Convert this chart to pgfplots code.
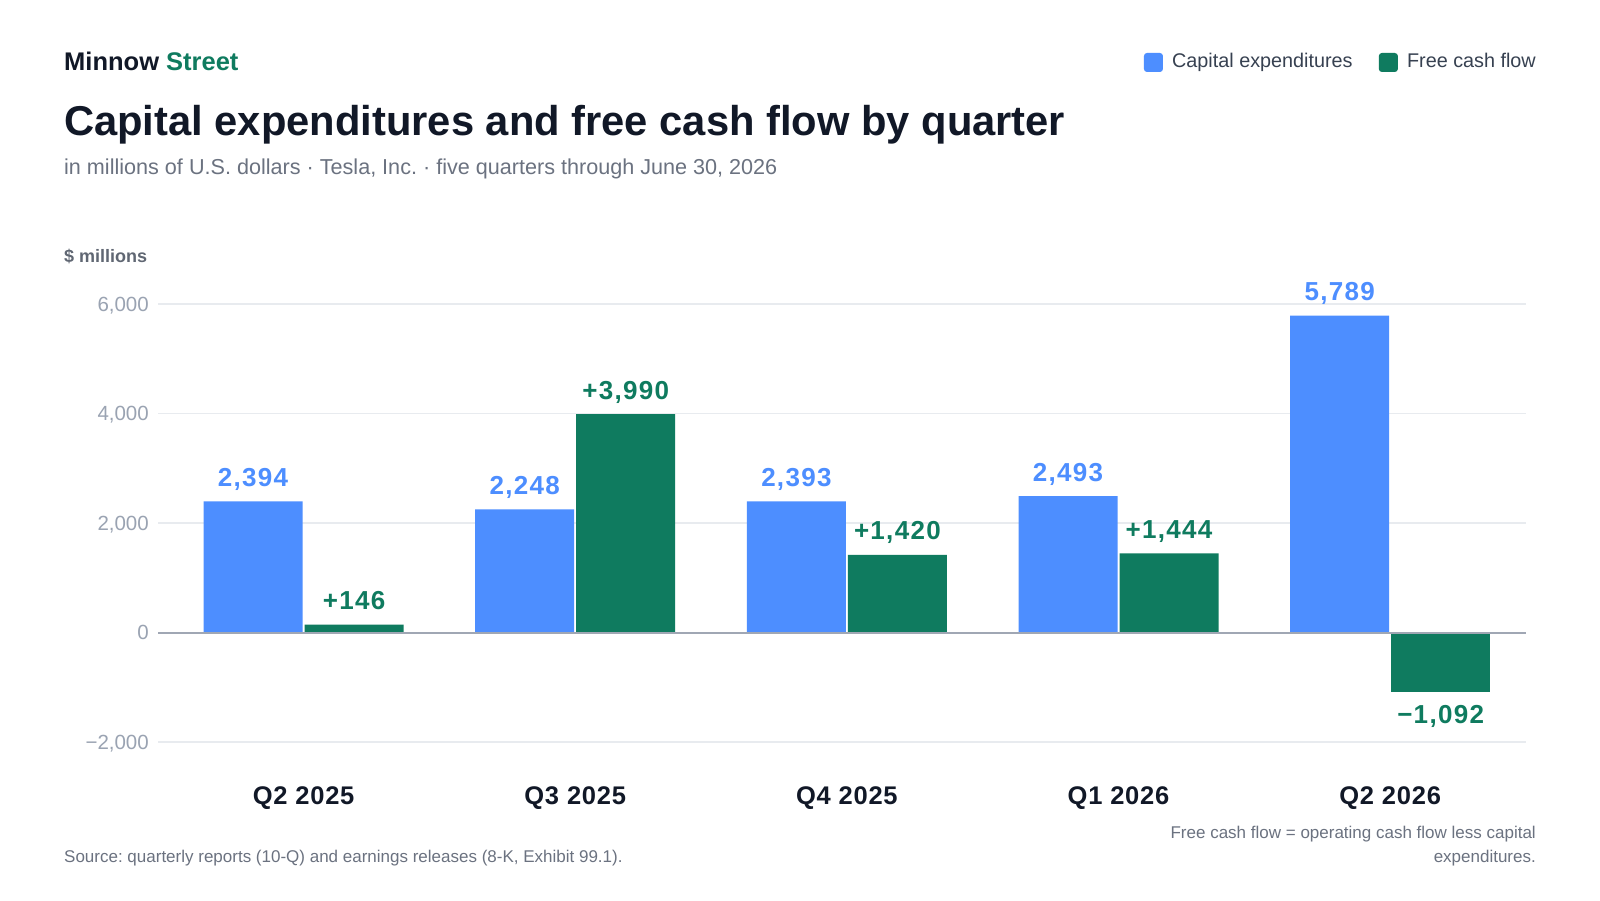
\documentclass[border=0pt]{standalone}
\usepackage{fontspec}
\setmainfont{Liberation Sans}
\newfontfamily\numfont[LetterSpace=5]{Liberation Sans}
\newfontfamily\catfont[LetterSpace=3]{Liberation Sans}
\usepackage{pgfplots}
\pgfplotsset{compat=1.18}
\definecolor{capex}{HTML}{4D8EFF}
\definecolor{fcf}{HTML}{0F7B5F}
\definecolor{ink}{HTML}{111827}
\definecolor{sub}{HTML}{6B7280}
\definecolor{tickc}{HTML}{9AA3B2}
\definecolor{gridc}{HTML}{E8EBEF}
\definecolor{zeroc}{HTML}{A0A7B4}
\definecolor{leg}{HTML}{374151}
\begin{document}
\frenchspacing
\begin{tikzpicture}[x=1pt,y=1pt]
\fill[white] (0,0) rectangle (1600,900);
% header
\node[anchor=base west, inner sep=0, font=\fontsize{25.5}{30}\selectfont\bfseries] at (64,829) {\textcolor{ink}{Minnow} \textcolor{fcf}{Street}};
\node[anchor=base west, inner sep=0, font=\fontsize{41.7}{50}\selectfont\bfseries, text=ink] at (64,764) {Capital expenditures and free cash flow by quarter};
\node[anchor=base west, inner sep=0, font=\fontsize{21.6}{26}\selectfont, text=sub] at (64,725) {in millions of U.S. dollars · Tesla, Inc. · five quarters through June 30, 2026};
\node[anchor=base west, inner sep=0, font=\fontsize{18}{22}\selectfont\bfseries, text=sub!90!black] at (64,637) {\$ millions};
% legend
\node[anchor=base east, inner sep=0, font=\fontsize{19.8}{24}\selectfont, text=leg] (l2) at (1536,832) {Free cash flow};
\fill[fcf, rounded corners=3pt] ([xshift=-9pt]l2.base west) ++(0,-4) rectangle ++(-19,19);
\node[anchor=base east, inner sep=0, font=\fontsize{19.8}{24}\selectfont, text=leg] (l1) at ([xshift=-54pt]l2.base west) {Capital expenditures};
\fill[capex, rounded corners=3pt] ([xshift=-9pt]l1.base west) ++(0,-4) rectangle ++(-19,19);
% footer
\node[anchor=base west, inner sep=0, font=\fontsize{17}{20}\selectfont, text=sub] at (64,38) {Source: quarterly reports (10-Q) and earnings releases (8-K, Exhibit 99.1).};
\node[anchor=base east, inner sep=0, font=\fontsize{17}{20}\selectfont, text=sub] at (1536,62) {Free cash flow = operating cash flow less capital};
\node[anchor=base east, inner sep=0, font=\fontsize{17}{20}\selectfont, text=sub] at (1536,38) {expenditures.};
\begin{axis}[
  at={(158pt,158pt)}, anchor=south west,
  scale only axis, width=1368pt, height=438pt,
  xmin=-0.536, xmax=4.5, ymin=-2000, ymax=6000,
  clip=false,
  axis line style={draw=none},
  major tick length=0pt, tick style={draw=none},
  ymajorgrids, grid style={gridc, line width=1.5pt},
  ytick={-2000,0,2000,4000,6000},
  yticklabels={{−2,000},{0},{2,000},{4,000},{6,000}},
  yticklabel style={font=\fontsize{20.5}{24}\selectfont, text=tickc, anchor=base east, inner sep=0pt, xshift=-9pt, yshift=-7pt},
  xtick={0,1,2,3,4},
  xticklabels={Q2 2025,Q3 2025,Q4 2025,Q1 2026,Q2 2026},
  xticklabel style={font=\catfont\fontsize{25.5}{30}\selectfont\bfseries, text=ink, anchor=base, inner sep=0pt, yshift=-62pt},
]
\addplot[ybar, bar width=99pt, bar shift=-50.5pt, fill=capex, draw=none,
  point meta=explicit symbolic, nodes near coords,
  nodes near coords style={font=\numfont\fontsize{26}{30}\selectfont\bfseries, text=capex, anchor=base, inner sep=0pt, xshift=-50.5pt, yshift=15pt}]
  coordinates {(0,2394)[{2,394}] (1,2248)[{2,248}] (2,2393)[{2,393}] (3,2493)[{2,493}] (4,5789)[{5,789}]};
\addplot[ybar, bar width=99pt, bar shift=50.5pt, fill=fcf, draw=none,
  point meta=explicit symbolic, nodes near coords,
  nodes near coords style={font=\numfont\fontsize{26}{30}\selectfont\bfseries, text=fcf, anchor=base, inner sep=0pt, xshift=50.5pt, yshift=15pt}]
  coordinates {(0,146)[{+146}] (1,3990)[{+3,990}] (2,1420)[{+1,420}] (3,1444)[{+1,444}]};
\addplot[ybar, bar width=99pt, bar shift=50.5pt, fill=fcf, draw=none,
  point meta=explicit symbolic, nodes near coords,
  nodes near coords style={font=\numfont\fontsize{26}{30}\selectfont\bfseries, text=fcf, anchor=base, inner sep=0pt, xshift=50.5pt, yshift=-31pt}]
  coordinates {(4,-1092)[{−1,092}]};
\addplot[sharp plot, no marks, zeroc, line width=2pt] coordinates {(-0.536,0) (4.5,0)};
\end{axis}
\end{tikzpicture}
\end{document}
